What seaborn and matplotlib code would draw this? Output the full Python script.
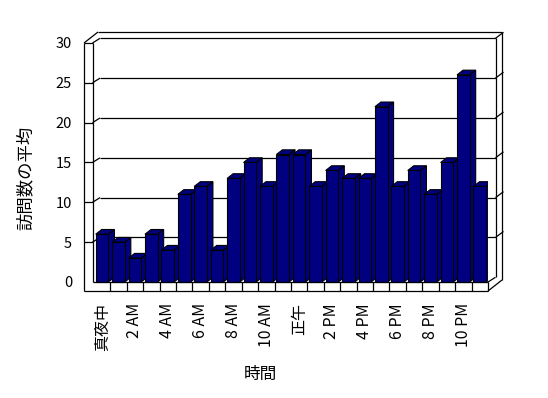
import numpy as np
import pandas as pd
import matplotlib
matplotlib.use("Agg")
import matplotlib.pyplot as plt
from matplotlib.patches import Polygon
import seaborn as sns

# data
hours = ["真夜中", "1 AM", "2 AM", "3 AM", "4 AM", "5 AM", "6 AM", "7 AM",
         "8 AM", "9 AM", "10 AM", "11 AM", "正午", "1 PM", "2 PM", "3 PM",
         "4 PM", "5 PM", "6 PM", "7 PM", "8 PM", "9 PM", "10 PM", "11 PM"]
visits = [6, 5, 3, 6, 4, 11, 12, 4, 13, 15, 12, 16,
          16, 12, 14, 13, 13, 22, 12, 14, 11, 15, 26, 12]
yticks = [0, 5, 10, 15, 20, 25, 30]
xlabel = "時間"
ylabel = "訪問数の平均"

sns.set_theme(style="white")
plt.rcParams["font.family"] = ["Noto Sans CJK JP", "DejaVu Sans"]

W, H, DPI = 548, 398, 100
fig = plt.figure(figsize=(W / DPI, H / DPI), dpi=DPI, facecolor="white")
# front plane of the box, in pixels
L, R, T, B = 84, 488, 43, 291
ax = fig.add_axes([L / W, 1 - B / H, (R - L) / W, (B - T) / H])
ax.set_facecolor("white")

df = pd.DataFrame({"hour": hours, "visits": visits})
sns.barplot(data=df, x="hour", y="visits", order=hours, color="#000080",
            saturation=1, width=0.77, edgecolor="black", linewidth=0.8, ax=ax)

X0, X1 = -1.1, len(hours) - 0.5
Y0, Y1 = -1.13, 30
ax.set_xlim(X0, X1)
ax.set_ylim(Y0, Y1)

ppx = (R - L) / (X1 - X0)
ppy = (B - T) / (Y1 - Y0)
def off(x, y, dx, dy):
    return (x + dx / ppx, y + dy / ppy)

XW = X0 + 8.5 / ppx
inner = (7.5, 4.7)
outer = (14, 11)
rgt = (8, 6)
lk = dict(color="black", lw=0.9, solid_capstyle="butt")

def seg(p, q, z=1):
    ax.plot([p[0], q[0]], [p[1], q[1]], zorder=z, clip_on=False, **lk)

# box frame
seg((X0, Y0), (X0, Y1))
seg((X0, Y1), (XW, Y1))
seg((X0, Y1), off(X0, Y1, *outer))
seg(off(X0, Y1, *outer), off(X1, Y1, *outer))
seg(off(X1, Y1, *outer), off(X1, Y0, *outer))
seg((X1, Y0), off(X1, Y0, *outer), z=4)
seg((XW, Y1), (XW, 0))
seg((XW, Y1), off(XW, Y1, *inner))
seg(off(XW, Y1, *inner), off(X1, Y1, *inner))
seg(off(X1, Y1, *inner), off(X1, 0, *inner))
seg(off(X1, Y1, *inner), off(*off(X1, Y1, *inner), *rgt))
seg((X1, 0), off(X1, 0, *inner), z=4)

# gridlines on the walls
for v in yticks[1:-1]:
    seg((X0, v), (XW, v))
    seg((XW, v), off(XW, v, *inner))
    seg(off(XW, v, *inner), off(X1, v, *inner))
    seg(off(X1, v, *inner), off(*off(X1, v, *inner), *rgt))

# floor front strip
seg((X0, Y0), (X1, Y0), z=4)
seg((XW, 0), (X1, 0), z=4)
seg((X1, Y0), (X1, 0), z=4)
for k in range(len(hours) - 1):
    seg((k + 0.5, Y0), (k + 0.5, 0), z=4)

# depth faces of the bars
bdx, bdy = 6 / ppx, 4.7 / ppy
for p in ax.patches[:len(hours)]:
    x, w, h = p.get_x(), p.get_width(), p.get_height()
    p.set_zorder(3)
    top = [(x, h), (x + w, h), (x + w + bdx, h + bdy), (x + bdx, h + bdy)]
    side = [(x + w, 0), (x + w, h), (x + w + bdx, h + bdy), (x + w + bdx, bdy)]
    for pts in (side, top):
        ax.add_patch(Polygon(pts, closed=True, facecolor="#000080",
                             edgecolor="black", lw=0.8, zorder=2))

for s in ax.spines.values():
    s.set_visible(False)

ax.set_yticks(yticks)
ax.set_yticklabels([str(v) for v in yticks], fontsize=10.5)
ax.set_xticks(range(0, len(hours), 2))
ax.set_xticklabels(hours[::2], rotation=90, fontsize=11.5)
ax.tick_params(axis="both", length=0, pad=8.6, colors="black")

ax.set_xlabel(xlabel, fontsize=12, color="black")
ax.set_ylabel(ylabel, fontsize=12.5, color="black")
ax.xaxis.set_label_coords((260 - L) / (R - L), (B - 374) / (B - T))
ax.yaxis.set_label_coords((26 - L) / (R - L), (B - 178) / (B - T))
ax.xaxis.label.set_va("center")
ax.yaxis.label.set_va("center")

fig.savefig("out.png", dpi=DPI, facecolor="white")
